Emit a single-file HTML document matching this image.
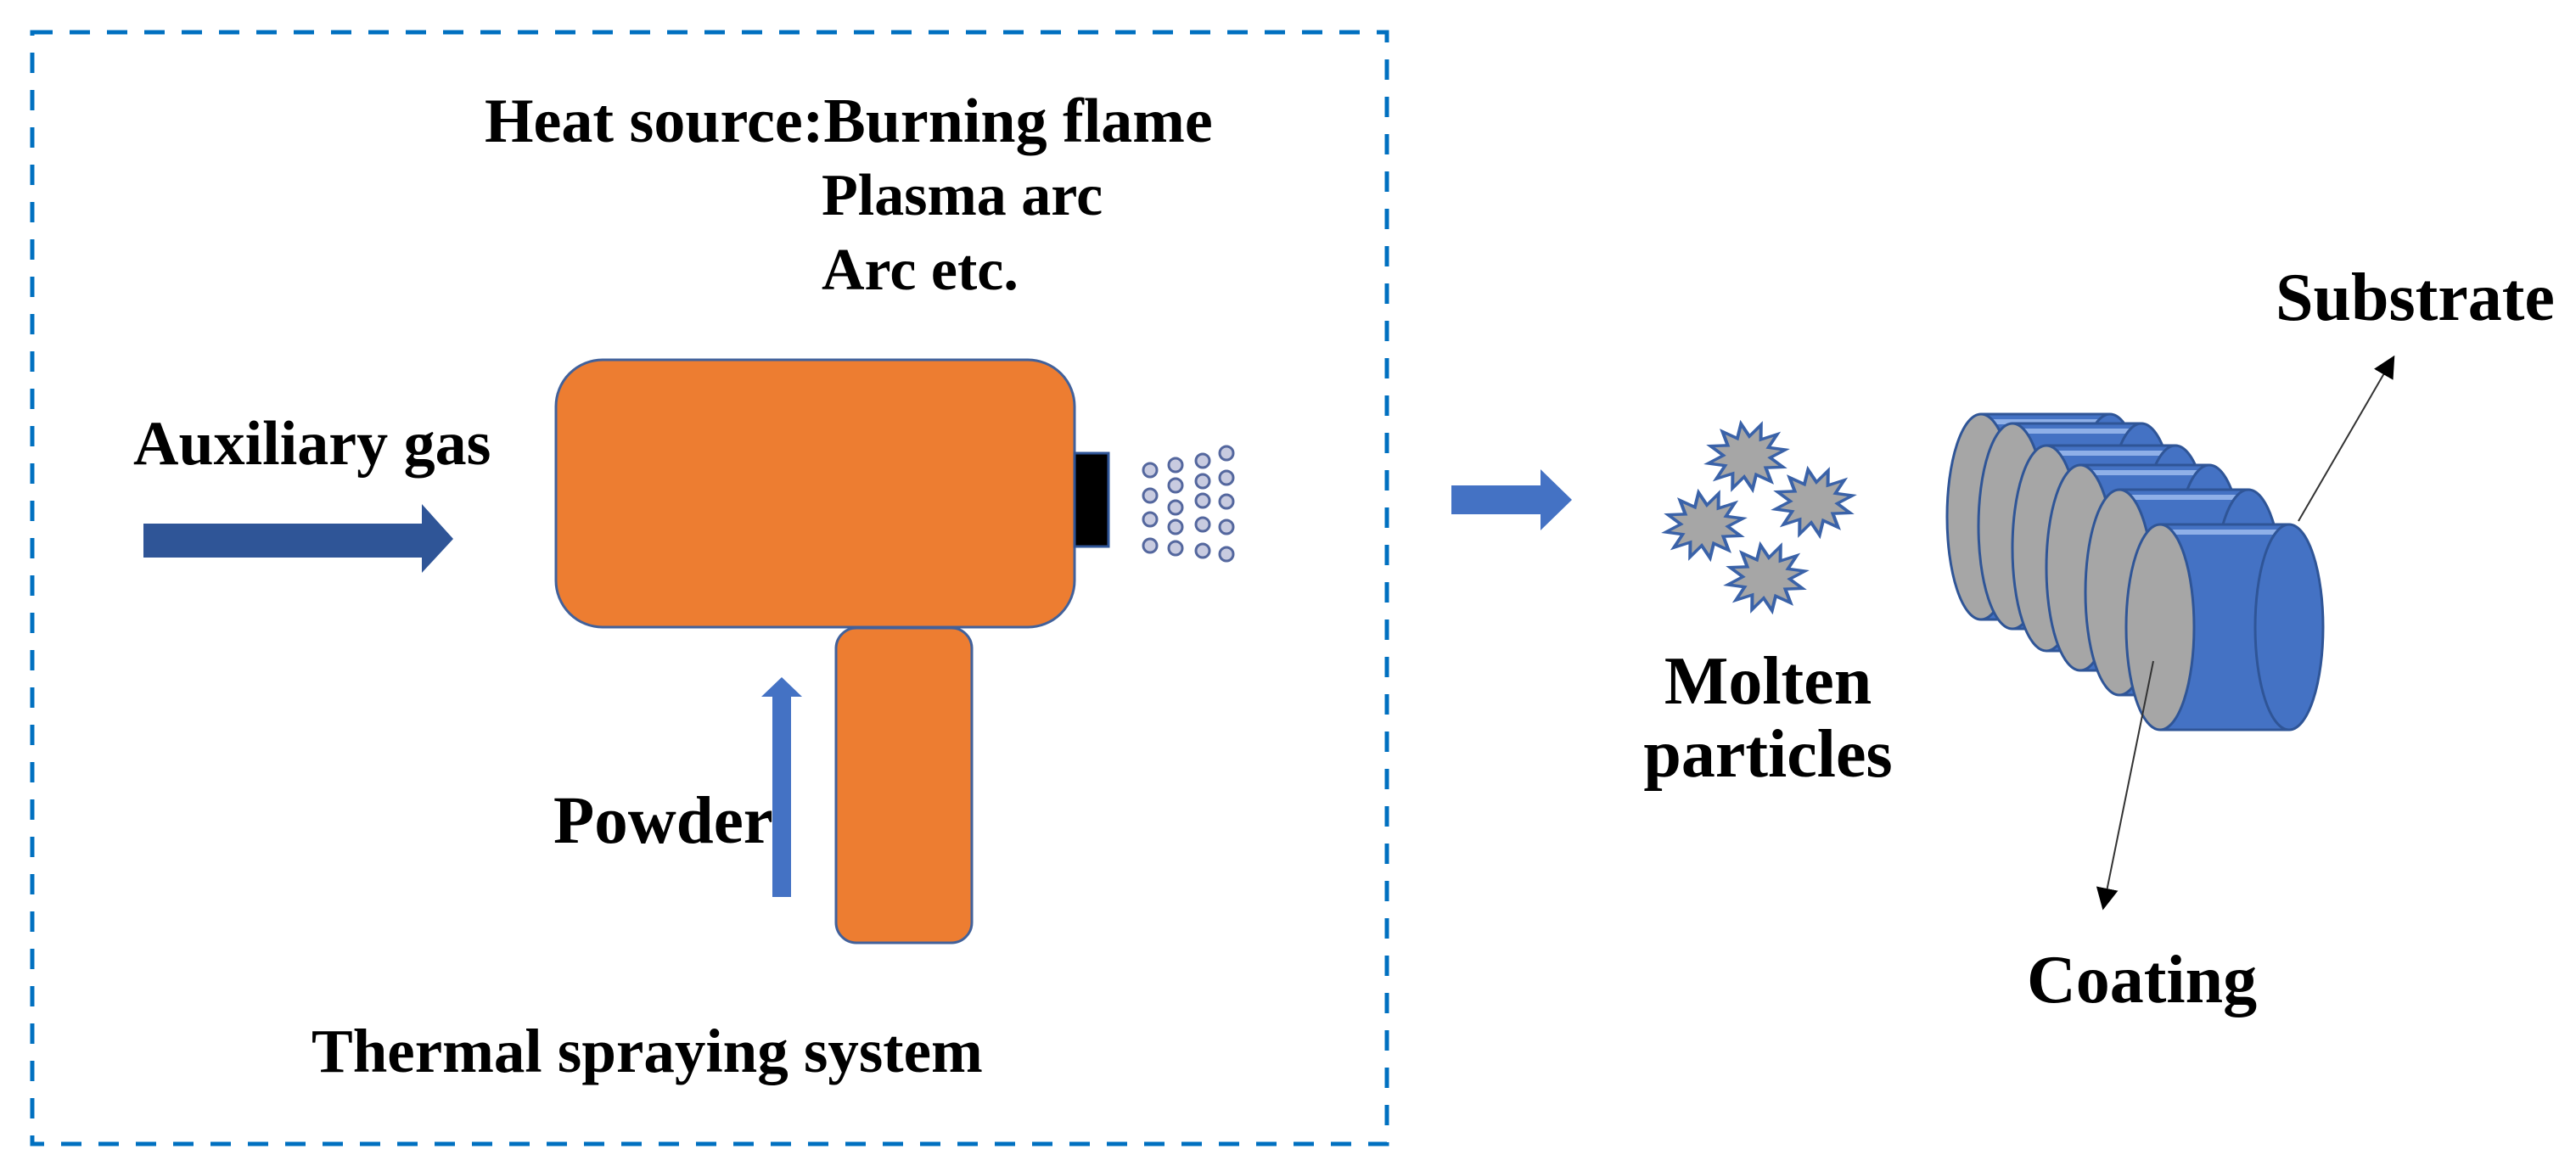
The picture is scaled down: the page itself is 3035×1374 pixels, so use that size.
<!DOCTYPE html>
<html><head><meta charset="utf-8"><style>
html,body{margin:0;padding:0;background:#fff;}
svg{display:block;}
text{font-family:"Liberation Serif",serif;font-weight:bold;fill:#000;}
</style></head><body>
<svg width="3035" height="1374" viewBox="0 0 3035 1374" xmlns="http://www.w3.org/2000/svg">
<defs>
<polygon id="star" points="46,0 27,7.2 39.8,23 19.8,19.8 23,39.8 7.2,27 0,46 -7.2,27 -23,39.8 -19.8,19.8 -39.8,23 -27,7.2 -46,0 -27,-7.2 -39.8,-23 -19.8,-19.8 -23,-39.8 -7.2,-27 0,-46 7.2,-27 23,-39.8 19.8,-19.8 39.8,-23 27,-7.2" fill="#a6a6a6" stroke="#3a62a8" stroke-width="4" stroke-linejoin="miter"/>
<marker id="ah2" viewBox="0 0 10 10" markerWidth="26" markerHeight="26" refX="9" refY="5" orient="auto" markerUnits="userSpaceOnUse"><path d="M0,0 L10,5 L0,10 z" fill="#000"/></marker>
<g id="cyl"><rect x="0" y="-121" width="152" height="242" fill="#4472c4" stroke="none"/><line x1="0" y1="-121" x2="152" y2="-121"/><line x1="0" y1="121" x2="152" y2="121"/><rect x="0" y="-115" width="152" height="6" fill="#8fb0e8" stroke="none"/><ellipse cx="152" cy="0" rx="40" ry="121" fill="#4472c4"/><ellipse cx="0" cy="0" rx="40" ry="121" fill="#a6a6a6"/></g>
</defs>

<!-- dashed box -->
<rect x="38" y="38" width="1596" height="1310" fill="none" stroke="#0070c0" stroke-width="5" stroke-dasharray="24,20"/>

<!-- texts -->
<text x="571" y="167" font-size="74">Heat source:Burning flame</text>
<text x="968" y="253" font-size="70">Plasma arc</text>
<text x="968" y="341" font-size="70">Arc etc.</text>
<text x="157" y="547" font-size="74">Auxiliary gas</text>
<text x="367" y="1263" font-size="73">Thermal spraying system</text>
<text x="652" y="993" font-size="79">Powder</text>

<!-- aux arrow -->
<polygon points="169,617 497,617 497,594 534,635 497,675 497,657 169,657" fill="#2f5597"/>

<!-- gun -->
<rect x="655" y="424" width="611" height="315" rx="55" ry="55" fill="#ed7d31" stroke="#41619b" stroke-width="3"/>
<rect x="985" y="740" width="160" height="371" rx="24" ry="24" fill="#ed7d31" stroke="#41619b" stroke-width="3"/>
<rect x="1266" y="534" width="40" height="110" fill="#000" stroke="#2f5597" stroke-width="3"/>

<!-- powder arrow -->
<polygon points="910,821 897,821 921,798 945,821 932,821 932,1057 910,1057" fill="#4472c4"/>

<!-- spray dots -->
<g fill="#c8cbe0" stroke="#54679e" stroke-width="3">
<circle cx="1355" cy="554" r="8"/><circle cx="1355" cy="584" r="8"/><circle cx="1355" cy="612" r="8"/><circle cx="1355" cy="643" r="8"/>
<circle cx="1385" cy="548" r="8"/><circle cx="1385" cy="572" r="8"/><circle cx="1385" cy="598" r="8"/><circle cx="1385" cy="621" r="8"/><circle cx="1385" cy="646" r="8"/>
<circle cx="1417" cy="543" r="8"/><circle cx="1417" cy="567" r="8"/><circle cx="1417" cy="590" r="8"/><circle cx="1417" cy="618" r="8"/><circle cx="1417" cy="649" r="8"/>
<circle cx="1445" cy="534" r="8"/><circle cx="1445" cy="563" r="8"/><circle cx="1445" cy="591" r="8"/><circle cx="1445" cy="621" r="8"/><circle cx="1445" cy="653" r="8"/>
</g>

<!-- middle arrow -->
<polygon points="1710,572 1815,572 1815,553 1852,589 1815,625 1815,606 1710,606" fill="#4472c4"/>

<!-- stars -->
<use href="#star" transform="translate(2058,538) rotate(-10) scale(1,0.85)"/>
<use href="#star" transform="translate(2137,592) rotate(-10) scale(1,0.85)"/>
<use href="#star" transform="translate(2008,619) rotate(-10) scale(1,0.85)"/>
<use href="#star" transform="translate(2081,681) rotate(-10) scale(1,0.85)"/>

<text x="2083" y="829" font-size="80" text-anchor="middle">Molten</text>
<text x="2083" y="915" font-size="80" text-anchor="middle">particles</text>

<!-- cylinders -->
<g stroke="#2f5597" stroke-width="3">
<use href="#cyl" transform="translate(2334,609)"/>
<use href="#cyl" transform="translate(2371,620)"/>
<use href="#cyl" transform="translate(2411,646)"/>
<use href="#cyl" transform="translate(2451,669)"/>
<use href="#cyl" transform="translate(2497,698)"/>
<use href="#cyl" transform="translate(2545,739)"/>
</g>

<!-- leader arrows -->
<line x1="2708" y1="614" x2="2820" y2="421" stroke="#333" stroke-width="2" marker-end="url(#ah2)"/>
<line x1="2537" y1="779" x2="2478" y2="1070" stroke="#333" stroke-width="2" marker-end="url(#ah2)"/>

<text x="2681" y="377" font-size="80">Substrate</text>
<text x="2388" y="1181" font-size="80">Coating</text>
</svg>
</body></html>
